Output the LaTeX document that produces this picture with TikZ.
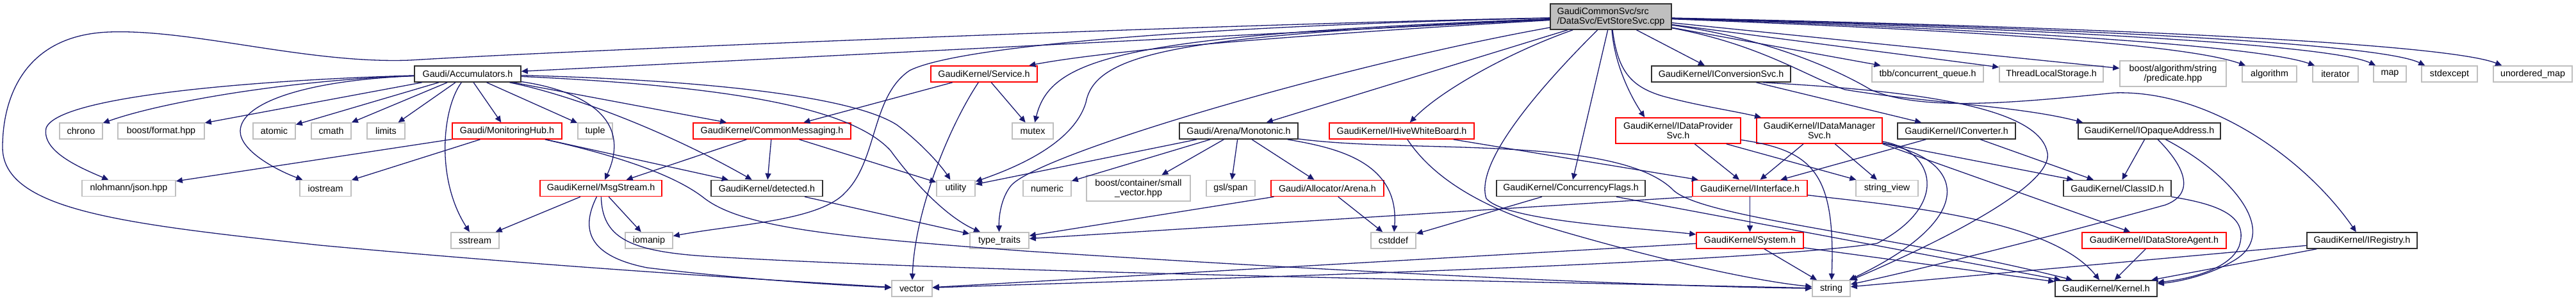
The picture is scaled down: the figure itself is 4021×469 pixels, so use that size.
\documentclass[tikz,border=0pt]{standalone}
\usepackage{fontspec}
\setmainfont{Liberation Sans}
\usetikzlibrary{arrows.meta}
\definecolor{edgec}{HTML}{191970}
\definecolor{grayb}{HTML}{BFBFBF}
\definecolor{rootf}{HTML}{BFBFBF}
\definecolor{darkb}{HTML}{303030}
\newcommand{\dgfont}{\fontsize{14.3pt}{15pt}\selectfont}
\begin{document}
\begin{tikzpicture}[x=1pt,y=-1pt,
  base/.style={rectangle, inner sep=0pt, minimum height=25pt, font=\dgfont, line width=1.6pt, fill=white, align=center},
  rb/.style={base, draw=red},
  kb/.style={base, draw=darkb},
  gb/.style={base, draw=grayb},
  rootbox/.style={base, draw=darkb, fill=rootf, align=left},
  e/.style={draw=edgec, line width=1.3pt, -{Triangle[length=10pt,width=9pt]}}
]
\fill[white] (0,0) rectangle (4021,469);
\useasboundingbox (0,0) rectangle (4021,469);
% row 0
\node[rootbox, minimum width=189pt, minimum height=40pt] (root) at (2514.5,26) {GaudiCommonSvc/src\\/DataSvc/EvtStoreSvc.cpp};
% row 1
\node[kb, minimum width=166pt] (accum) at (730,115.5) {Gaudi/Accumulators.h};
\node[rb, minimum width=166pt] (service) at (1536,115.5) {GaudiKernel/Service.h};
\node[kb, minimum width=217pt] (iconvsvc) at (2686.5,115.5) {GaudiKernel/IConversionSvc.h};
\node[gb, minimum width=174pt] (tbb) at (3009,115.5) {tbb/concurrent\_queue.h};
\node[gb, minimum width=162pt] (tls) at (3202,115.5) {ThreadLocalStorage.h};
\node[gb, minimum width=166pt, minimum height=40pt] (predicate) at (3392,115) {boost/algorithm/string\\/predicate.hpp};
\node[gb, minimum width=85pt] (algorithm) at (3542.5,115.5) {algorithm};
\node[gb, minimum width=71pt] (iterator) at (3645.5,115.5) {iterator};
\node[gb, minimum width=51pt] (map) at (3730.5,115.5) {map};
\node[gb, minimum width=87pt] (stdexcept) at (3823.5,115.5) {stdexcept};
\node[gb, minimum width=123pt] (umap) at (3953.5,115.5) {unordered\_map};
% row 2
\node[gb, minimum width=67pt] (chrono) at (126.5,204.5) {chrono};
\node[gb, minimum width=135pt] (bformat) at (251.5,204.5) {boost/format.hpp};
\node[gb, minimum width=66pt] (atomic) at (428,204.5) {atomic};
\node[gb, minimum width=62pt] (cmath) at (517,204.5) {cmath};
\node[gb, minimum width=59pt] (limits) at (602.5,204.5) {limits};
\node[rb, minimum width=171pt] (monhub) at (791.5,204.5) {Gaudi/MonitoringHub.h};
\node[gb, minimum width=54pt] (tuple) at (929,204.5) {tuple};
\node[rb, minimum width=246pt] (commsg) at (1205,204.5) {GaudiKernel/CommonMessaging.h};
\node[gb, minimum width=64pt] (mutex) at (1612,204.5) {mutex};
\node[kb, minimum width=185pt] (monotonic) at (1933.5,204.5) {Gaudi/Arena/Monotonic.h};
\node[rb, minimum width=226pt] (ihive) at (2188,204.5) {GaudiKernel/IHiveWhiteBoard.h};
\node[rb, minimum width=195pt, minimum height=40pt] (idataprov) at (2619.5,204) {GaudiKernel/IDataProvider\\Svc.h};
\node[rb, minimum width=196pt, minimum height=40pt] (idataman) at (2840,204) {GaudiKernel/IDataManager\\Svc.h};
\node[kb, minimum width=184pt] (iconverter) at (3054,204.5) {GaudiKernel/IConverter.h};
\node[kb, minimum width=222pt] (iopaque) at (3355,204.5) {GaudiKernel/IOpaqueAddress.h};
% row 3
\node[gb, minimum width=146pt] (json) at (201,294) {nlohmann/json.hpp};
\node[gb, minimum width=80pt] (iostream) at (508,294) {iostream};
\node[rb, minimum width=190pt] (msgstream) at (938,294) {GaudiKernel/MsgStream.h};
\node[kb, minimum width=174pt] (detected) at (1197,294) {GaudiKernel/detected.h};
\node[gb, minimum width=60pt] (utility) at (1492,294) {utility};
\node[gb, minimum width=75pt] (numeric) at (1634.5,294) {numeric};
\node[gb, minimum width=162pt, minimum height=40pt] (smallvec) at (1777,294) {boost/container/small\\\_vector.hpp};
\node[gb, minimum width=76pt] (gslspan) at (1921,294) {gsl/span};
\node[rb, minimum width=176pt] (arena) at (2072,294) {Gaudi/Allocator/Arena.h};
\node[kb, minimum width=232pt] (concflags) at (2452,294) {GaudiKernel/ConcurrencyFlags.h};
\node[rb, minimum width=179pt] (iinterface) at (2731.5,294) {GaudiKernel/IInterface.h};
\node[gb, minimum width=97pt] (stringview) at (2945.5,294) {string\_view};
\node[kb, minimum width=168pt] (classid) at (3305,294) {GaudiKernel/ClassID.h};
% row 4
\node[gb, minimum width=75pt] (sstream) at (741.5,375.5) {sstream};
\node[gb, minimum width=74pt] (iomanip) at (1013,375.5) {iomanip};
\node[gb, minimum width=92pt] (typetraits) at (1560,375.5) {type\_traits};
\node[gb, minimum width=70pt] (cstddef) at (2175,375.5) {cstddef};
\node[rb, minimum width=167pt] (system) at (2731.5,375.5) {GaudiKernel/System.h};
\node[rb, minimum width=225pt] (idsagent) at (3362.5,375.5) {GaudiKernel/IDataStoreAgent.h};
\node[kb, minimum width=172pt] (iregistry) at (3687,375.5) {GaudiKernel/IRegistry.h};
% row 5
\node[gb, minimum width=63pt] (vector) at (1423.5,450.5) {vector};
\node[gb, minimum width=59pt] (string) at (2858.5,450.5) {string};
\node[kb, minimum width=159pt] (kernel) at (3287.5,450.5) {GaudiKernel/Kernel.h};

% ---- root edges
\draw[e] (root) -- (accum);
\draw[e] (root) .. controls (1900,38) and (900,78) .. (640,94) .. controls (480,100) and (300,45) .. (170,50) .. controls (40,55) and (4,150) .. (4,230) .. controls (4,330) and (200,350) .. (500,383) .. controls (900,420) and (1250,440) .. (vector);
\draw[e] (root) .. controls (2100,50) and (1750,75) .. (service);
\draw[e] (root) .. controls (1750,55) and (1640,90) .. (mutex);
\draw[e] (root) .. controls (1850,55) and (1710,80) .. (1695,160) .. controls (1680,210) and (1620,250) .. (utility);
\draw[e] (root) .. controls (2100,100) and (1620,240) .. (1578,290) .. controls (1562,310) and (1559,340) .. (typetraits);
\draw[e] (root) .. controls (1900,40) and (1500,70) .. (1420,110) .. controls (1360,150) and (1370,250) .. (1320,300) .. controls (1280,345) and (1150,350) .. (iomanip);
\draw[e] (root) -- (monotonic);
\draw[e] (root) .. controls (2360,80) and (2250,140) .. (ihive);
\draw[e] (root) -- (concflags);
\draw[e] (root) .. controls (2420,120) and (2300,250) .. (2320,310) .. controls (2350,345) and (2550,355) .. (system);
\draw[e] (root) .. controls (2520,100) and (2545,150) .. ([xshift=46pt]idataprov.north west);
\draw[e] (root) -- (iconvsvc);
\draw[e] (root) .. controls (2525,110) and (2545,135) .. (2595,150) .. controls (2650,165) and (2700,172) .. (idataman);
\draw[e] (root) -- (tbb);
\draw[e] (root) -- (tls);
\draw[e] (root) -- (predicate);
\draw[e] (root) .. controls (3000,45) and (3400,65) .. ([xshift=6pt]algorithm.north west);
\draw[e] (root) .. controls (3100,45) and (3520,70) .. ([xshift=4pt]iterator.north west);
\draw[e] (root) .. controls (3200,45) and (3640,70) .. ([xshift=4pt]map.north west);
\draw[e] (root) .. controls (3300,45) and (3720,70) .. ([xshift=6pt]stdexcept.north west);
\draw[e] (root) .. controls (3400,45) and (3830,72) .. ([xshift=14pt]umap.north west);
\draw[e] (root) .. controls (2750,70) and (2820,120) .. (2880,140) .. controls (3000,160) and (3150,165) .. ([xshift=8pt]iopaque.north west);
\draw[e] (root) .. controls (2760,60) and (2870,110) .. (2920,140) .. controls (3000,175) and (3150,160) .. (3300,145) .. controls (3450,140) and (3600,250) .. (iregistry);
% ---- IConversionSvc
\draw[e] (iconvsvc) -- (iconverter);
\draw[e] ([xshift=-44pt]iconvsvc.south east) .. controls (2950,140) and (3175,160) .. (3195,235) .. controls (3215,290) and (3000,390) .. (string);
% ---- Accumulators
\draw[e] (accum) .. controls (400,125) and (90,150) .. (72,200) .. controls (65,235) and (120,260) .. (json);
\draw[e] (accum) .. controls (450,125) and (250,160) .. (chrono);
\draw[e] (accum) .. controls (480,125) and (375,160) .. (375,205) .. controls (375,235) and (430,265) .. (iostream);
\draw[e] (accum) -- (bformat);
\draw[e] (accum) -- (atomic);
\draw[e] (accum) -- (cmath);
\draw[e] (accum) -- (limits);
\draw[e] (accum) .. controls (690,170) and (680,280) .. (sstream);
\draw[e] (accum) -- (monhub);
\draw[e] (accum) -- (tuple);
\draw[e] (accum) -- (commsg);
\draw[e] (accum) .. controls (900,140) and (990,180) .. (msgstream);
\draw[e] (accum) .. controls (900,150) and (1050,210) .. (detected);
\draw[e] (accum) .. controls (1100,125) and (1330,150) .. (1400,195) .. controls (1440,225) and (1470,260) .. (utility);
\draw[e] (accum) .. controls (1150,135) and (1330,170) .. (1390,235) .. controls (1430,290) and (1480,340) .. (typetraits);
% ---- MonitoringHub
\draw[e] (monhub) -- (json);
\draw[e] (monhub) -- (iostream);
\draw[e] (monhub) -- (detected);
\draw[e] (monhub) .. controls (950,240) and (1050,270) .. (1100,310) .. controls (1160,355) and (1300,370) .. (1600,392) .. controls (2100,425) and (2600,448) .. (string);
% ---- CommonMessaging
\draw[e] (commsg) -- (msgstream);
\draw[e] (commsg) -- (detected);
\draw[e] (commsg) -- (utility);
% ---- Service
\draw[e] (service) -- (commsg);
\draw[e] (service) -- (mutex);
\draw[e] (service) .. controls (1480,200) and (1428,330) .. (vector);
% ---- MsgStream
\draw[e] (msgstream) -- (sstream);
\draw[e] (msgstream) -- (iomanip);
\draw[e] (msgstream) .. controls (940,370) and (980,392) .. (1100,400) .. controls (1500,425) and (2400,440) .. (string);
\draw[e] (msgstream) .. controls (905,360) and (920,400) .. (1010,418) .. controls (1150,435) and (1300,445) .. (vector);
% ---- detected
\draw[e] (detected) -- (typetraits);
% ---- Monotonic
\draw[e] (monotonic) -- (utility);
\draw[e] (monotonic) -- (numeric);
\draw[e] (monotonic) -- (smallvec);
\draw[e] (monotonic) -- (gslspan);
\draw[e] (monotonic) -- (arena);
\draw[e] (monotonic) .. controls (2080,230) and (2185,250) .. (cstddef);
\draw[e] (monotonic) .. controls (2200,240) and (2520,210) .. (2610,295) .. controls (2650,340) and (2950,365) .. (kernel);
% ---- ConcurrencyFlags
\draw[e] (concflags) -- (cstddef);
\draw[e] (concflags) -- (kernel);
% ---- Arena
\draw[e] (arena) -- (typetraits);
\draw[e] (arena) -- (cstddef);
% ---- IHiveWhiteBoard
\draw[e] (ihive) -- (iinterface);
\draw[e] (ihive) .. controls (2225,260) and (2280,310) .. (2400,350) .. controls (2600,410) and (2750,440) .. (string);
% ---- System
\draw[e] (system) -- (string);
\draw[e] (system) -- (kernel);
\draw[e] (system) -- (vector);
% ---- IInterface
\draw[e] (iinterface) -- (system);
\draw[e] (iinterface) .. controls (2950,320) and (3200,340) .. (kernel);
\draw[e] (iinterface.south west) -- (typetraits);
% ---- IDataProviderSvc
\draw[e] (idataprov) -- (iinterface);
\draw[e] (idataprov) -- (stringview);
\draw[e] (idataprov) .. controls (2830,235) and (2865,270) .. (string);
% ---- IDataManagerSvc
\draw[e] (idataman) -- (iinterface);
\draw[e] (idataman) -- (stringview);
\draw[e] (idataman) .. controls (3020,235) and (3045,320) .. (2930,380) .. controls (2700,415) and (1700,440) .. (vector);
\draw[e] (idataman) .. controls (3070,250) and (3090,340) .. (string);
\draw[e] (idataman) -- (classid);
\draw[e] (idataman.south east) -- (idsagent);
% ---- IConverter
\draw[e] (iconverter) -- (iinterface);
\draw[e] (iconverter) -- (classid);
% ---- IOpaqueAddress
\draw[e] (iopaque) -- (classid);
\draw[e] (iopaque) .. controls (3420,270) and (3420,305) .. (3380,320) .. controls (3200,370) and (3000,420) .. (string);
\draw[e] (iopaque) .. controls (3480,270) and (3560,360) .. (3490,405) .. controls (3450,430) and (3400,440) .. (kernel);
% ---- ClassID
\draw[e] (classid) .. controls (3470,320) and (3510,340) .. (3495,385) .. controls (3480,420) and (3420,435) .. (kernel);
% ---- IDataStoreAgent
\draw[e] (idsagent) -- (kernel);
% ---- IRegistry
\draw[e] (iregistry) -- (string);
\draw[e] (iregistry) -- (kernel);
\end{tikzpicture}
\end{document}
